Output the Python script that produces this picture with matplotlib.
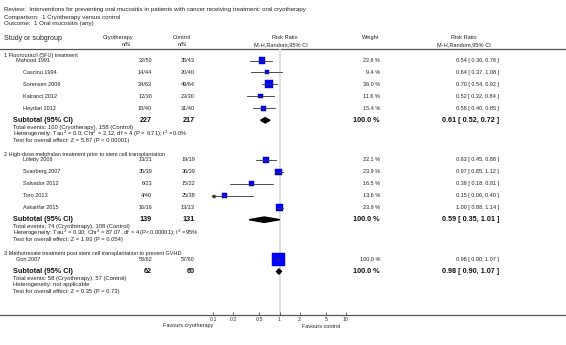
import matplotlib
matplotlib.use('Agg')
import matplotlib.pyplot as plt
import numpy as np

plt.rcParams['font.family'] = ['Liberation Sans', 'DejaVu Sans']

# ---- data ----
groups = [
    '1 Fluorouracil (5FU) treatment',
    '2 High-dose melphalan treatment prior to stem cell transplantation',
    '3 Methotrexate treatment post stem cell transplantation to prevent GVHD',
]
studies = ['Mahood 1991', 'Cascinu 1994', 'Sorensen 2006', 'Katranci 2012', 'Heydari 2012',
           'Lilleby 2006', 'Svanberg 2007', 'Salvador 2012', 'Toro 2013', 'Askarifar 2015',
           'Gori 2007']
study_group = [0, 0, 0, 0, 0, 1, 1, 1, 1, 1, 2]
cryo_nN = ['22/50', '14/44', '34/63', '12/30', '18/40',
           '13/21', '35/39', '6/23', '4/40', '16/16', '58/62']
ctrl_nN = ['35/43', '20/40', '49/64', '23/30', '31/40',
           '19/19', '36/39', '15/22', '25/38', '13/13', '57/60']
weight = [22.6, 9.4, 36.0, 11.6, 15.4, 22.1, 23.9, 16.5, 13.6, 23.9, 100.0]
rr = [0.54, 0.64, 0.70, 0.52, 0.58, 0.63, 0.97, 0.38, 0.15, 1.00, 0.98]
rr_lo = [0.36, 0.37, 0.54, 0.32, 0.40, 0.45, 0.85, 0.18, 0.06, 0.88, 0.90]
rr_hi = [0.78, 1.08, 0.92, 0.84, 0.85, 0.88, 1.12, 0.81, 0.40, 1.14, 1.07]

sub_cryo_N = [227, 139, 62]
sub_ctrl_N = [217, 131, 60]
sub_rr = [0.61, 0.59, 0.98]
sub_lo = [0.52, 0.35, 0.90]
sub_hi = [0.72, 1.01, 1.07]
sub_events = ['Total events: 100 (Cryotherapy), 158 (Control)',
              'Total events: 74 (Cryotherapy), 108 (Control)',
              'Total events: 58 (Cryotherapy), 57 (Control)']
sub_het = ['Heterogeneity: Tau$^2$ = 0.0; Chi$^2$ = 2.12, df = 4 (P = 0.71); I$^2$ =0.0%',
           'Heterogeneity: Tau$^2$ = 0.30; Chi$^2$ = 87.07, df = 4 (P<0.00001); I$^2$ =95%',
           'Heterogeneity: not applicable']
sub_test = ['Test for overall effect: Z = 5.87 (P < 0.00001)',
            'Test for overall effect: Z = 1.93 (P = 0.054)',
            'Test for overall effect: Z = 0.35 (P = 0.73)']

ticks = [0.1, 0.2, 0.5, 1, 2, 5, 10]
tick_labels = ['0.1', '0.2', '0.5', '1', '2', '5', '10']

# ---- layout (pixel rows) ----
W, H = 566, 345
y_axis = 315
y_head = 49
x_log0, x_log1 = 213, 346

study_y = []
group_y, sub_y = [], []
y = 55
for g in range(len(groups)):
    group_y.append(y)
    yy = y + 5.5
    for i, sg in enumerate(study_group):
        if sg == g:
            study_y.append(yy)
            yy += 11.9
    yy += 0.3
    sub_y.append(yy)
    y = yy + 3 * 6.7 + 14

fig = plt.figure(figsize=(W / 100, H / 100), dpi=100)
ax = fig.add_axes([0, 0, 1, 1])
ax.set_xlim(0, W)
ax.set_ylim(H, 0)
ax.axis('off')

txt = '#222222'
small = 4.0
stat = 4.2

# title block
ax.text(4, 10, 'Review:  Interventions for preventing oral mucositis in patients with cancer receiving treatment: oral cryotherapy',
        fontsize=4.45, va='center', color=txt)
ax.text(4, 17, 'Comparison:  1 Cryotherapy versus control', fontsize=4.45, va='center', color=txt)
ax.text(4, 24, 'Outcome:  1 Oral mucositis (any)', fontsize=4.45, va='center', color=txt)

# column headers
ax.text(4, 38.5, 'Study or subgroup', fontsize=5.0, va='center', color=txt)
ax.text(118, 37.5, 'Cryotherapy', fontsize=4.1, va='center', ha='center', color=txt)
ax.text(126, 44.3, 'n/N', fontsize=4.1, va='center', ha='center', color=txt)
ax.text(182, 37.5, 'Control', fontsize=4.1, va='center', ha='center', color=txt)
ax.text(182, 44.3, 'n/N', fontsize=4.1, va='center', ha='center', color=txt)
ax.text(285, 37.5, 'Risk Ratio', fontsize=4.1, va='center', ha='center', color=txt)
ax.text(281, 44.3, 'M-H,Random,95% CI', fontsize=4.1, va='center', ha='center', color=txt)
ax.text(371, 37.5, 'Weight', fontsize=4.1, va='center', ha='center', color=txt)
ax.text(464, 37.5, 'Risk Ratio', fontsize=4.1, va='center', ha='center', color=txt)
ax.text(464, 44.3, 'M-H,Random,95% CI', fontsize=4.1, va='center', ha='center', color=txt)

ax.plot([0, W], [y_head, y_head], color='#555555', lw=0.9)
ax.plot([0, W], [y_axis, y_axis], color='#555555', lw=0.9)

# study rows
for i, name in enumerate(studies):
    yy = study_y[i]
    first = i == 0 or study_group[i] != study_group[i - 1]
    ax.text(16 if first and study_group[i] != 1 else 23, yy, name, fontsize=small, va='center', color=txt)
    ax.text(152, yy, cryo_nN[i], fontsize=small, va='center', ha='right', color=txt)
    ax.text(195, yy, ctrl_nN[i], fontsize=small, va='center', ha='right', color=txt)
    ax.text(380, yy, '%.1f %%' % weight[i], fontsize=small, va='center', ha='right', color=txt)
    ax.text(499, yy, '%.2f [ %.2f, %.2f ]' % (rr[i], rr_lo[i], rr_hi[i]),
            fontsize=small, va='center', ha='right', color=txt)

for g, gname in enumerate(groups):
    ax.text(4, group_y[g], gname, fontsize=small, va='center', color=txt)
    sy = sub_y[g]
    ax.text(13, sy, 'Subtotal (95% CI)', fontsize=5.2, fontweight='bold', va='center', color='#111111')
    ax.text(152, sy, str(sub_cryo_N[g]), fontsize=5.2, fontweight='bold', va='center', ha='right', color='#111111')
    ax.text(195, sy, str(sub_ctrl_N[g]), fontsize=5.2, fontweight='bold', va='center', ha='right', color='#111111')
    ax.text(380, sy, '100.0 %', fontsize=5.2, fontweight='bold', va='center', ha='right', color='#111111')
    ax.text(499, sy, '%.2f [ %.2f, %.2f ]' % (sub_rr[g], sub_lo[g], sub_hi[g]),
            fontsize=5.2, fontweight='bold', va='center', ha='right', color='#111111')
    ax.text(13, sy + 6.7, sub_events[g], fontsize=stat, va='center', color=txt)
    ax.text(13, sy + 13.4, sub_het[g], fontsize=stat, va='center', color=txt)
    ax.text(13, sy + 20.1, sub_test[g], fontsize=stat, va='center', color=txt)

# ---- forest panel on log scale ----
fa = fig.add_axes([x_log0 / W, (H - y_axis) / H, (x_log1 - x_log0) / W, (y_axis - y_head) / H])
fa.set_xscale('log')
fa.set_xlim(0.1, 10)
fa.set_ylim(y_axis, y_head)
fa.patch.set_visible(False)
for s in fa.spines.values():
    s.set_visible(False)
fa.set_yticks([])
fa.set_xticks(ticks)
fa.set_xticklabels(tick_labels)
fa.minorticks_off()
fa.tick_params(axis='x', direction='in', length=2, width=0.5, labelsize=3.8, pad=1.5,
               colors='#333333')
fa.axvline(1, color='#d9d9d9', lw=1.2, zorder=0)

w = np.array(weight)
side_px = 13 * np.sqrt(w / 100)
fa.scatter(rr, study_y, s=(side_px * 0.72) ** 2, marker='s', color='#0000ff',
           edgecolors='#0000aa', linewidths=0.3, zorder=2, clip_on=False)
for i in range(len(studies)):
    lo = max(rr_lo[i], 0.1)
    hi = min(rr_hi[i], 10)
    fa.plot([lo, hi], [study_y[i], study_y[i]], color='#333333', lw=0.6, zorder=3, clip_on=False)
    if rr_lo[i] < 0.1:
        fa.plot([0.1], [study_y[i]], marker='<', ms=2, color='#333333', zorder=3, clip_on=False)

for g in range(len(groups)):
    sy = sub_y[g]
    dx = [sub_lo[g], sub_rr[g], sub_hi[g], sub_rr[g]]
    dy = [sy, sy - 2.7, sy, sy + 2.7]
    fa.fill(dx, dy, color='black', zorder=3, clip_on=False)

fa.text(0.1, y_axis + 11, 'Favours cryotherapy', fontsize=4.0, ha='right', va='center', color=txt)
fa.text(2.2, y_axis + 11, 'Favours control', fontsize=4.0, ha='left', va='center', color=txt)

fig.savefig('out.png', dpi=100)
